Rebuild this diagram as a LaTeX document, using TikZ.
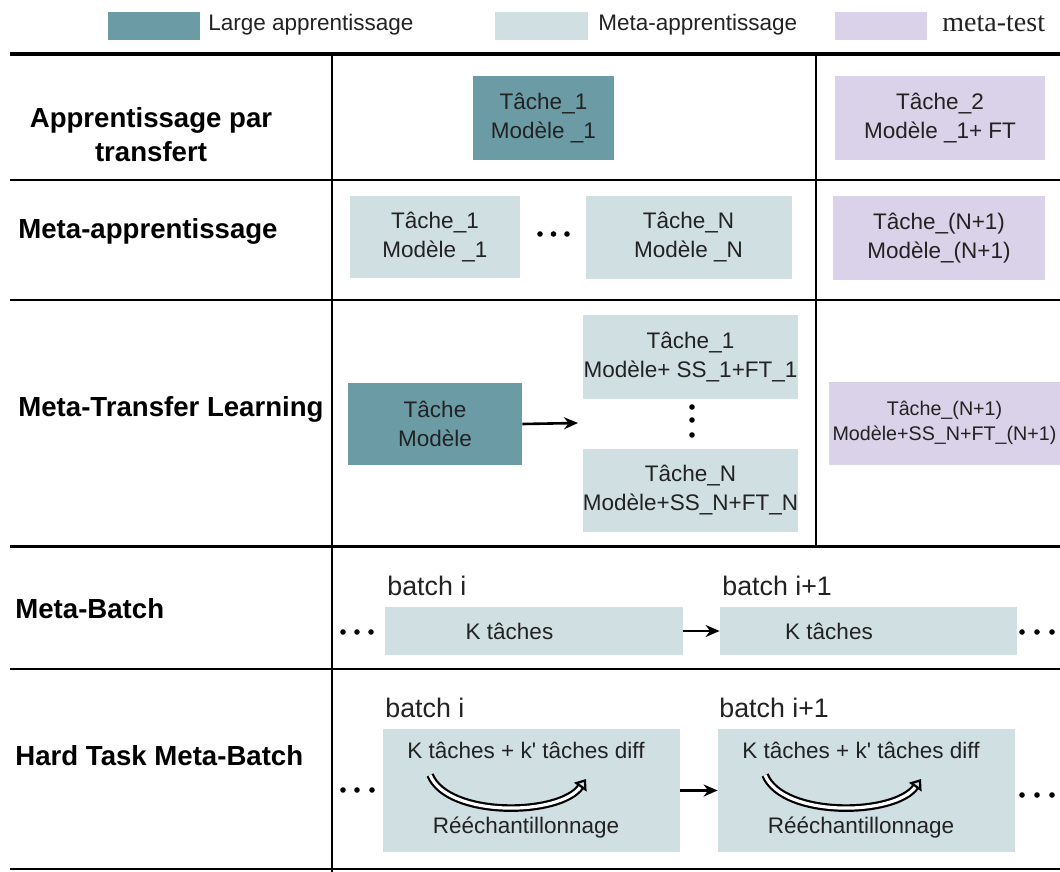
\documentclass[tikz,border=0pt]{standalone}
\usepackage{xcolor}
\usepackage{fontspec}
\setmainfont{Liberation Sans}
\newfontfamily\seriftest{Liberation Serif}
\usepackage{tikz}
\usetikzlibrary{arrows.meta}
\definecolor{tealfonce}{HTML}{6B9BA5}
\definecolor{bleuclair}{HTML}{D0DFE2}
\definecolor{mauve}{HTML}{D9D2E8}
\definecolor{encre}{HTML}{222222}
\tikzset{
  boite/.style={inner sep=0pt, align=center, text=encre, font=\fontsize{11.25}{14.5}\selectfont},
  large/.style={boite, fill=tealfonce},
  metaa/.style={boite, fill=bleuclair},
  testm/.style={boite, fill=mauve},
  titre/.style={font=\fontsize{13.8}{17}\selectfont\bfseries, align=center, inner sep=0pt},
  lot/.style={font=\fontsize{13.4}{16}\selectfont, anchor=west, inner sep=0pt, text=encre},
  texte/.style={font=\fontsize{11.25}{14.5}\selectfont, inner sep=0pt, text=encre},
  fleche/.style={-{Stealth[length=7pt,width=6pt]}, line width=1.3pt},
  boucle/.style={line width=1.1pt, double=white, double distance=1.6pt, -{Triangle[open, length=5pt, width=7.5pt]}}
}

\begin{document}
\begin{tikzpicture}[x=0.5pt, y=-0.5pt]
        \useasboundingbox (0,0) rectangle (1060,872);
        % Legende
        \node[large, minimum width=46pt, minimum height=14pt] (lg1) at (154,26) {};
        \node[texte, anchor=west] (tlg1) at (208,25) {Large apprentissage};
        \node[metaa, minimum width=46.5pt, minimum height=14pt] (lg2) at (541.5,26) {};
        \node[texte, anchor=west] (tlg2) at (598,25) {Meta-apprentissage};
        \node[testm, minimum width=46pt, minimum height=14pt] (lg3) at (881,26) {};
        \node[inner sep=0pt, anchor=west, text=encre, font=\seriftest\fontsize{14}{16}\selectfont] (tlg3) at (942,24) {meta-test};
        % Lignes du tableau
        \draw[line width=2pt] (10,54) -- (1060,54);
        \draw[line width=1pt] (10,180) -- (1060,180);
        \draw[line width=1pt] (10,300) -- (1060,300);
        \draw[line width=1.5pt] (10,546) -- (1060,546);
        \draw[line width=1pt] (10,669) -- (1060,669);
        \draw[line width=1pt] (10,869) -- (1060,869);
        \draw[line width=1pt] (332,54) -- (332,872);
        \draw[line width=1pt] (816,54) -- (816,546);
        % Titres des lignes
        \node[titre] (r1) at (151,135) {Apprentissage par\\transfert};
        \node[titre, anchor=west] (r2) at (18,231) {Meta-apprentissage};
        \node[titre, anchor=west] (r3) at (18,409) {Meta-Transfer Learning};
        \node[titre, anchor=west] (r4) at (15,609) {Meta-Batch};
        \node[titre, anchor=west] (r5) at (15,756) {Hard Task Meta-Batch};
        % Apprentissage par transfert
        \node[large, minimum width=70.5pt, minimum height=42pt] (at1) at (543.5,118) {Tâche\_1\\Modèle \_1};
        \node[testm, minimum width=105pt, minimum height=42pt] (at2) at (940,118) {Tâche\_2\\Modèle \_1+ FT};
        % Meta-apprentissage
        \node[metaa, minimum width=85pt, minimum height=41pt] (ma1) at (435,237) {Tâche\_1\\Modèle \_1};
        \foreach \x in {540,553.5,567} \fill (\x,234) circle (1.4pt);
        \node[metaa, minimum width=103pt, minimum height=41.5pt] (man) at (688.5,237.5) {Tâche\_N\\Modèle \_N};
        \node[testm, minimum width=106pt, minimum height=42pt] (mat) at (939,238) {Tâche\_(N+1)\\Modèle\_(N+1)};
        % Meta-Transfer Learning
        \node[large, minimum width=87pt, minimum height=41pt] (tm) at (435,424) {Tâche\\Modèle};
        \coordinate (tmf) at (578,423);
        \draw[fleche] (tm.east) -- (tmf);
        \node[metaa, minimum width=107.5pt, minimum height=42pt] (tm1) at (690.5,357) {Tâche\_1\\Modèle+ SS\_1+FT\_1};
        \foreach \y in {407,420,435} \fill (692,\y) circle (1.4pt);
        \node[metaa, minimum width=107.5pt, minimum height=41.5pt] (tmn) at (690.5,490.5) {Tâche\_N\\Modèle+SS\_N+FT\_N};
        \node[testm, minimum width=115.5pt, minimum height=41.5pt, font=\fontsize{9.85}{12.5}\selectfont] (tmt) at (944.5,423) {Tâche\_(N+1)\\Modèle+SS\_N+FT\_(N+1)};
        % Meta-Batch
        \foreach \x in {343,357,371} \fill (\x,632) circle (1.4pt);
        \node[lot] (lb1) at (387,586) {batch i};
        \node[metaa, minimum width=149pt, minimum height=24pt] (mb1) at (534,631) {};
        \node[texte] (tb1) at ([xshift=-12.25pt]mb1.center) {K tâches};
        \node[lot] (lb2) at (722,586) {batch i+1};
        \node[metaa, minimum width=148.5pt, minimum height=24pt] (mb2) at (868.5,631) {};
        \node[texte] (tb2) at ([xshift=-19.75pt]mb2.center) {K tâches};
        \draw[fleche] (mb1.east) -- (mb2.west);
        \foreach \x in {1022,1037,1052} \fill (\x,632) circle (1.4pt);
        % Hard Task Meta-Batch
        \foreach \x in {343,357,372} \fill (\x,790) circle (1.4pt);
        \node[lot] (lh1) at (385,708) {batch i};
        \node[metaa, minimum width=148.5pt, minimum height=61.5pt] (hb1) at (531.5,790.5) {};
        \node[texte] (th1) at (526,750) {K tâches + k\textquotesingle{} tâches diff};
        \node[texte] (re1) at (526,828) {Rééchantillonnage};
        \coordinate (c1a) at (430,775);
        \coordinate (c1b) at (586,779);
        \draw[boucle] (c1a) .. controls (448,818) and (560,816) .. (c1b);
        \node[lot] (lh2) at (719,708) {batch i+1};
        \node[metaa, minimum width=148.5pt, minimum height=61.5pt] (hb2) at (866.5,790.5) {};
        \node[texte] (th2) at (861,750) {K tâches + k\textquotesingle{} tâches diff};
        \node[texte] (re2) at (861,828) {Rééchantillonnage};
        \coordinate (c2a) at (765,775);
        \coordinate (c2b) at (921,779);
        \draw[boucle] (c2a) .. controls (783,818) and (895,816) .. (c2b);
        \draw[fleche] (hb1.east) -- (hb2.west);
        \foreach \x in {1022,1037,1052} \fill (\x,795) circle (1.4pt);
    \end{tikzpicture}
\end{document}
